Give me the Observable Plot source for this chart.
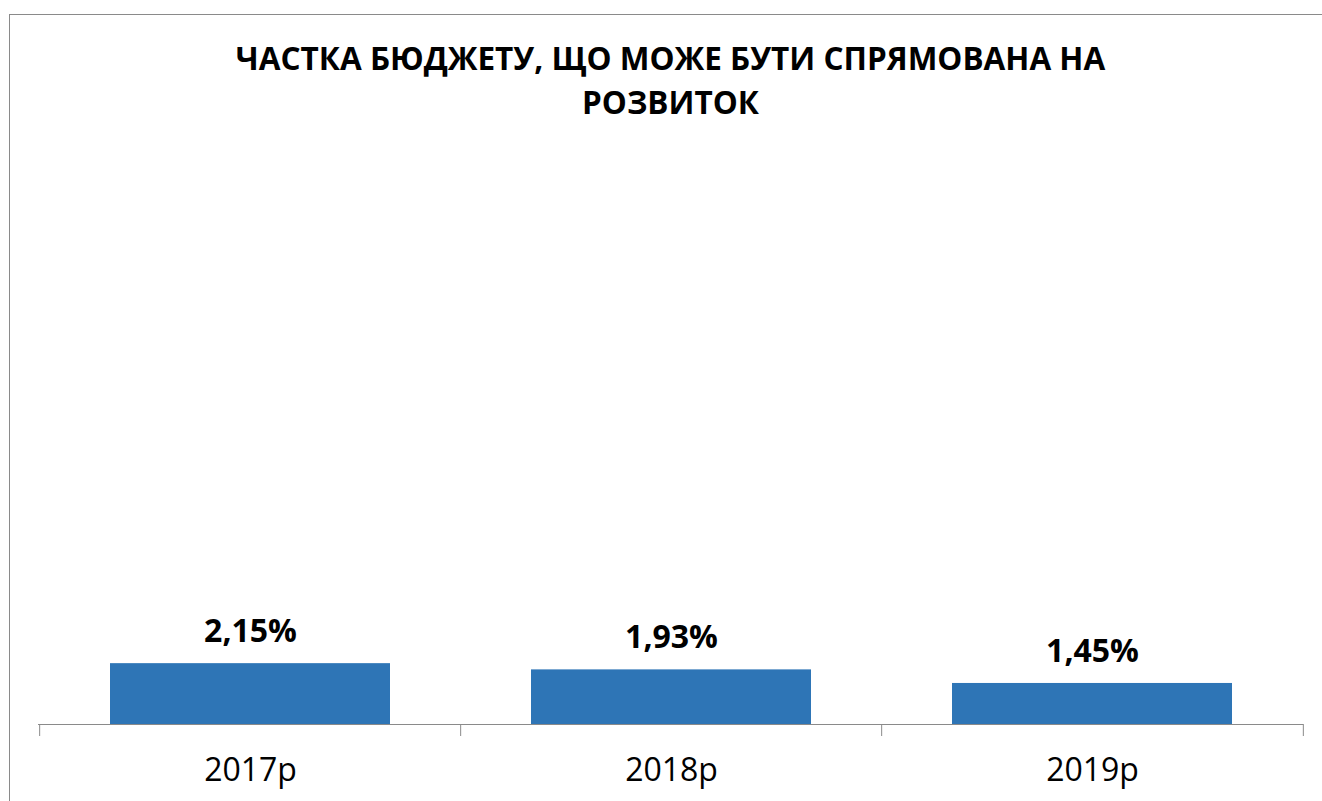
<!DOCTYPE html>
<html>
<head>
<meta charset="utf-8">
<script src="https://cdn.jsdelivr.net/npm/d3@7"></script>
<script src="https://cdn.jsdelivr.net/npm/@observablehq/plot@0.6"></script>
<style>
  html, body { margin: 0; padding: 0; background: #fff; overflow: hidden; width: 1322px; height: 801px; }
  #frame { position: absolute; left: 9px; top: 14px; width: 1400px; height: 900px;
           border-left: 1px solid #8a8a8a; border-top: 1px solid #8a8a8a; box-sizing: border-box; }
  #title { position: absolute; left: 0; top: 36px; width: 1341px; text-align: center;
           font-family: "Open Sans", sans-serif; font-weight: 700; font-size: 31.5px; line-height: 44px; color: #000; }
  #chart { position: absolute; left: 0; top: 130px; width: 1341px; }
  #chart svg { max-width: none !important; }
</style>
</head>
<body>
<div id="frame"></div>
<div id="title">ЧАСТКА БЮДЖЕТУ, ЩО МОЖЕ БУТИ СПРЯМОВАНА НА<br>РОЗВИТОК</div>
<div id="chart"></div>
<script>
const years = ["2017р", "2018р", "2019р"];
const shares = [2.15, 1.93, 1.45];
const shareLabels = ["2,15%", "1,93%", "1,45%"];

const data = years.map((year, i) => ({year, share: shares[i], label: shareLabels[i]}));

const width = 1341, marginLeft = 38, marginRight = 38;
const step = (width - marginLeft - marginRight) / years.length;

const chart = Plot.plot({
  width,
  height: 669,
  marginLeft,
  marginRight,
  marginTop: 28,
  marginBottom: 75,
  style: {fontFamily: "Open Sans, sans-serif", color: "#000", background: "transparent", maxWidth: "none"},
  x: {domain: years, paddingInner: 0.336, paddingOuter: 0.168, label: null},
  y: {domain: [0, 20], axis: null},
  marks: [
    Plot.barY(data, {x: "year", y: "share", fill: "#2E75B6"}),
    Plot.ruleY([0], {stroke: "#8a8a8a", strokeWidth: 1}),
    Plot.axisX({ticks: years, tickSize: 12, dx: -step / 2, stroke: "#8a8a8a", tickFormat: () => "", label: null}),
    Plot.axisX({ticks: [years[years.length - 1]], tickSize: 12, dx: step / 2, stroke: "#8a8a8a", tickFormat: () => "", label: null}),
    Plot.axisX({ticks: years, tickSize: 0, tickPadding: 34, fontSize: 32, fill: "#000", label: null}),
    Plot.text(data, {x: "year", y: "share", text: "label", dy: -32, fontSize: 32, fontWeight: "bold", fill: "#000"})
  ]
});
document.getElementById("chart").appendChild(chart);
</script>
</body>
</html>
